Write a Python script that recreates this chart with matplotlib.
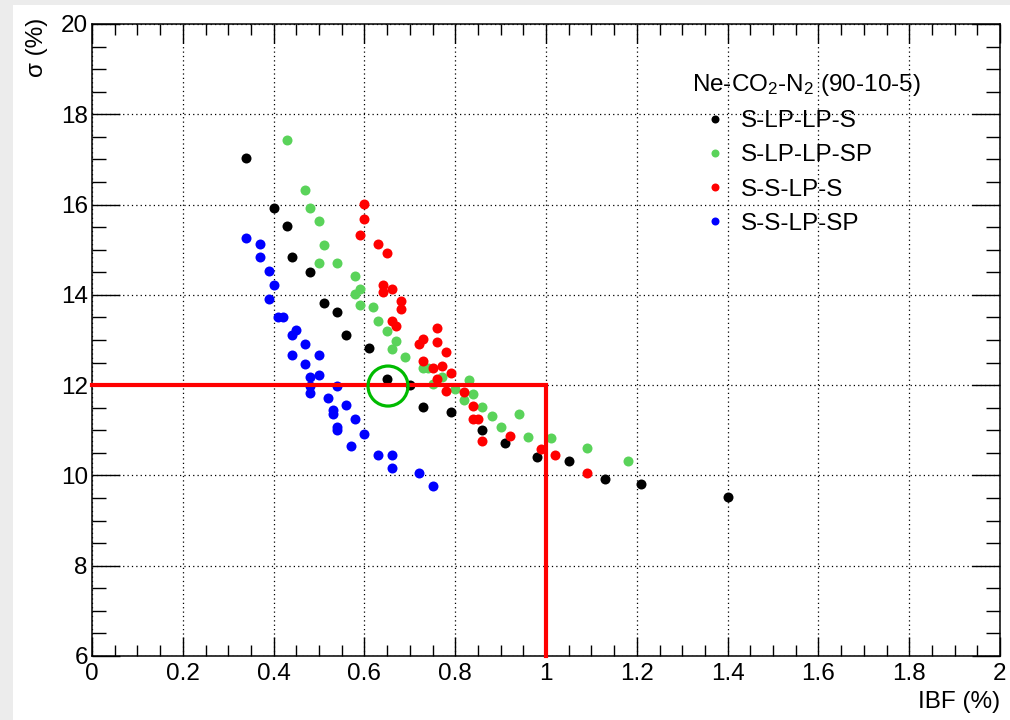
import matplotlib
matplotlib.use("Agg")
import matplotlib.pyplot as plt
from matplotlib.patches import Rectangle, Ellipse

plt.rcParams['font.family'] = ['Liberation Sans', 'DejaVu Sans']
plt.rcParams['mathtext.fontset'] = 'custom'
plt.rcParams['mathtext.rm'] = 'Liberation Sans'
plt.rcParams['mathtext.it'] = 'Liberation Sans:italic'

# S-LP-LP-S
black_x = [0.34, 0.40, 0.43, 0.44, 0.48, 0.51, 0.54, 0.56, 0.61, 0.65,
           0.70, 0.73, 0.79, 0.86, 0.91, 0.98, 1.05, 1.13, 1.21, 1.40]
black_y = [17.03, 15.92, 15.52, 14.83, 14.51, 13.83, 13.62, 13.12, 12.82, 12.13,
           12.01, 11.52, 11.40, 11.01, 10.71, 10.41, 10.32, 9.91, 9.81, 9.52]

# S-LP-LP-SP
green_x = [0.43, 0.47, 0.48, 0.50, 0.51, 0.50, 0.54, 0.58, 0.59, 0.58,
           0.59, 0.62, 0.63, 0.65, 0.67, 0.66, 0.69, 0.73, 0.74, 0.77,
           0.75, 0.83, 0.80, 0.84, 0.82, 0.86, 0.88, 0.90, 0.94, 0.96,
           1.01, 1.09, 1.18]
green_y = [17.42, 16.32, 15.92, 15.63, 15.11, 14.71, 14.71, 14.42, 14.12, 14.03,
           13.78, 13.72, 13.42, 13.21, 12.98, 12.81, 12.62, 12.37, 12.37, 12.17,
           12.02, 12.12, 11.91, 11.81, 11.66, 11.52, 11.31, 11.07, 11.37, 10.86,
           10.82, 10.61, 10.32]

# S-S-LP-S
red_x = [0.60, 0.60, 0.59, 0.63, 0.65, 0.64, 0.64, 0.66, 0.68, 0.68,
         0.66, 0.67, 0.76, 0.73, 0.72, 0.76, 0.78, 0.73, 0.75, 0.77,
         0.79, 0.76, 0.78, 0.82, 0.84, 0.84, 0.85, 0.86, 0.92, 0.99,
         1.02, 1.09]
red_y = [16.02, 15.67, 15.33, 15.13, 14.93, 14.22, 14.06, 14.12, 13.87, 13.68,
         13.43, 13.32, 13.27, 13.02, 12.92, 12.96, 12.73, 12.53, 12.37, 12.42,
         12.28, 12.13, 11.86, 11.84, 11.53, 11.26, 11.26, 10.76, 10.87, 10.58,
         10.46, 10.06]

# S-S-LP-SP
blue_x = [0.34, 0.37, 0.37, 0.39, 0.40, 0.39, 0.41, 0.42, 0.45, 0.44,
          0.47, 0.44, 0.50, 0.47, 0.48, 0.50, 0.48, 0.48, 0.54, 0.52,
          0.53, 0.53, 0.56, 0.58, 0.54, 0.54, 0.60, 0.57, 0.63, 0.66,
          0.66, 0.72, 0.75]
blue_y = [15.27, 15.13, 14.83, 14.52, 14.22, 13.91, 13.52, 13.52, 13.22, 13.11,
          12.91, 12.66, 12.66, 12.46, 12.18, 12.22, 11.99, 11.82, 11.97, 11.71,
          11.46, 11.36, 11.57, 11.26, 11.08, 11.01, 10.92, 10.66, 10.46, 10.46,
          10.16, 10.06, 9.76]

series = [(black_x, black_y, 'black', 'S-LP-LP-S'),
          (green_x, green_y, '#5ad35a', 'S-LP-LP-SP'),
          (red_x, red_y, '#ff0000', 'S-S-LP-S'),
          (blue_x, blue_y, '#0000ff', 'S-S-LP-SP')]

ibf_limit = 1.0
sigma_limit = 12.0
best_x, best_y = 0.652, 11.98

fs = 17.5

fig = plt.figure(figsize=(10.1, 7.2), dpi=100, facecolor='#ececec')
fig.patches.append(Rectangle((13 / 1010, 0), 1, 1 - 5 / 720, transform=fig.transFigure,
                             facecolor='white', edgecolor='none', zorder=-10))
ax = fig.add_axes([92 / 1010, 64 / 720, 908 / 1010, 632 / 720])

ax.set_xlim(0, 2)
ax.set_ylim(6, 20)
ax.set_xticks([0, 0.2, 0.4, 0.6, 0.8, 1, 1.2, 1.4, 1.6, 1.8, 2])
ax.set_xticklabels(['0', '0.2', '0.4', '0.6', '0.8', '1', '1.2', '1.4', '1.6', '1.8', '2'])
ax.set_yticks([6, 8, 10, 12, 14, 16, 18, 20])
ax.set_xticks([i * 0.05 for i in range(41)], minor=True)
ax.set_yticks([6 + i * 0.5 for i in range(29)], minor=True)
ax.grid(True, which='major', color='black', linestyle=(0, (1, 2.5)), linewidth=0.9)
ax.tick_params(axis='both', which='both', direction='in', top=True, right=True,
               labelsize=fs, width=1)
ax.tick_params(axis='x', which='major', length=13.7, pad=5)
ax.tick_params(axis='x', which='minor', length=7.9)
ax.tick_params(axis='y', which='major', length=20, pad=3)
ax.tick_params(axis='y', which='minor', length=10)
for s in ax.spines.values():
    s.set_linewidth(1.1)

for xs, ys, c, lab in series:
    ax.plot(xs, ys, 'o', color=c, markersize=7.2, markeredgewidth=0, label=lab, zorder=3)

ax.plot([0, ibf_limit, ibf_limit], [sigma_limit, sigma_limit, 6], color='#ff0000',
        linewidth=3, zorder=4, solid_joinstyle='miter', clip_on=False)
ax.add_patch(Ellipse((best_x, best_y), 0.088, 0.886, fill=False, edgecolor='#00bb00',
                     linewidth=2.3, zorder=5))

ax.set_xlabel('IBF (%)', fontsize=fs, loc='right')
ax.xaxis.set_label_coords(1.0, -0.056)
ax.set_ylabel('σ (%)', fontsize=fs, loc='top')
ax.yaxis.set_label_coords(-0.048, 1.01)

leg = ax.legend(title='Ne-CO$_2$-N$_2$ (90-10-5)', loc='upper left',
                bbox_to_anchor=(0.661, 0.924), frameon=False, fontsize=fs,
                title_fontsize=fs, markerscale=0.8, handlelength=1.9,
                handletextpad=0.1, labelspacing=0.5, alignment='left',
                borderpad=0, borderaxespad=0)

fig.savefig('out.png', dpi=100, facecolor=fig.get_facecolor())
